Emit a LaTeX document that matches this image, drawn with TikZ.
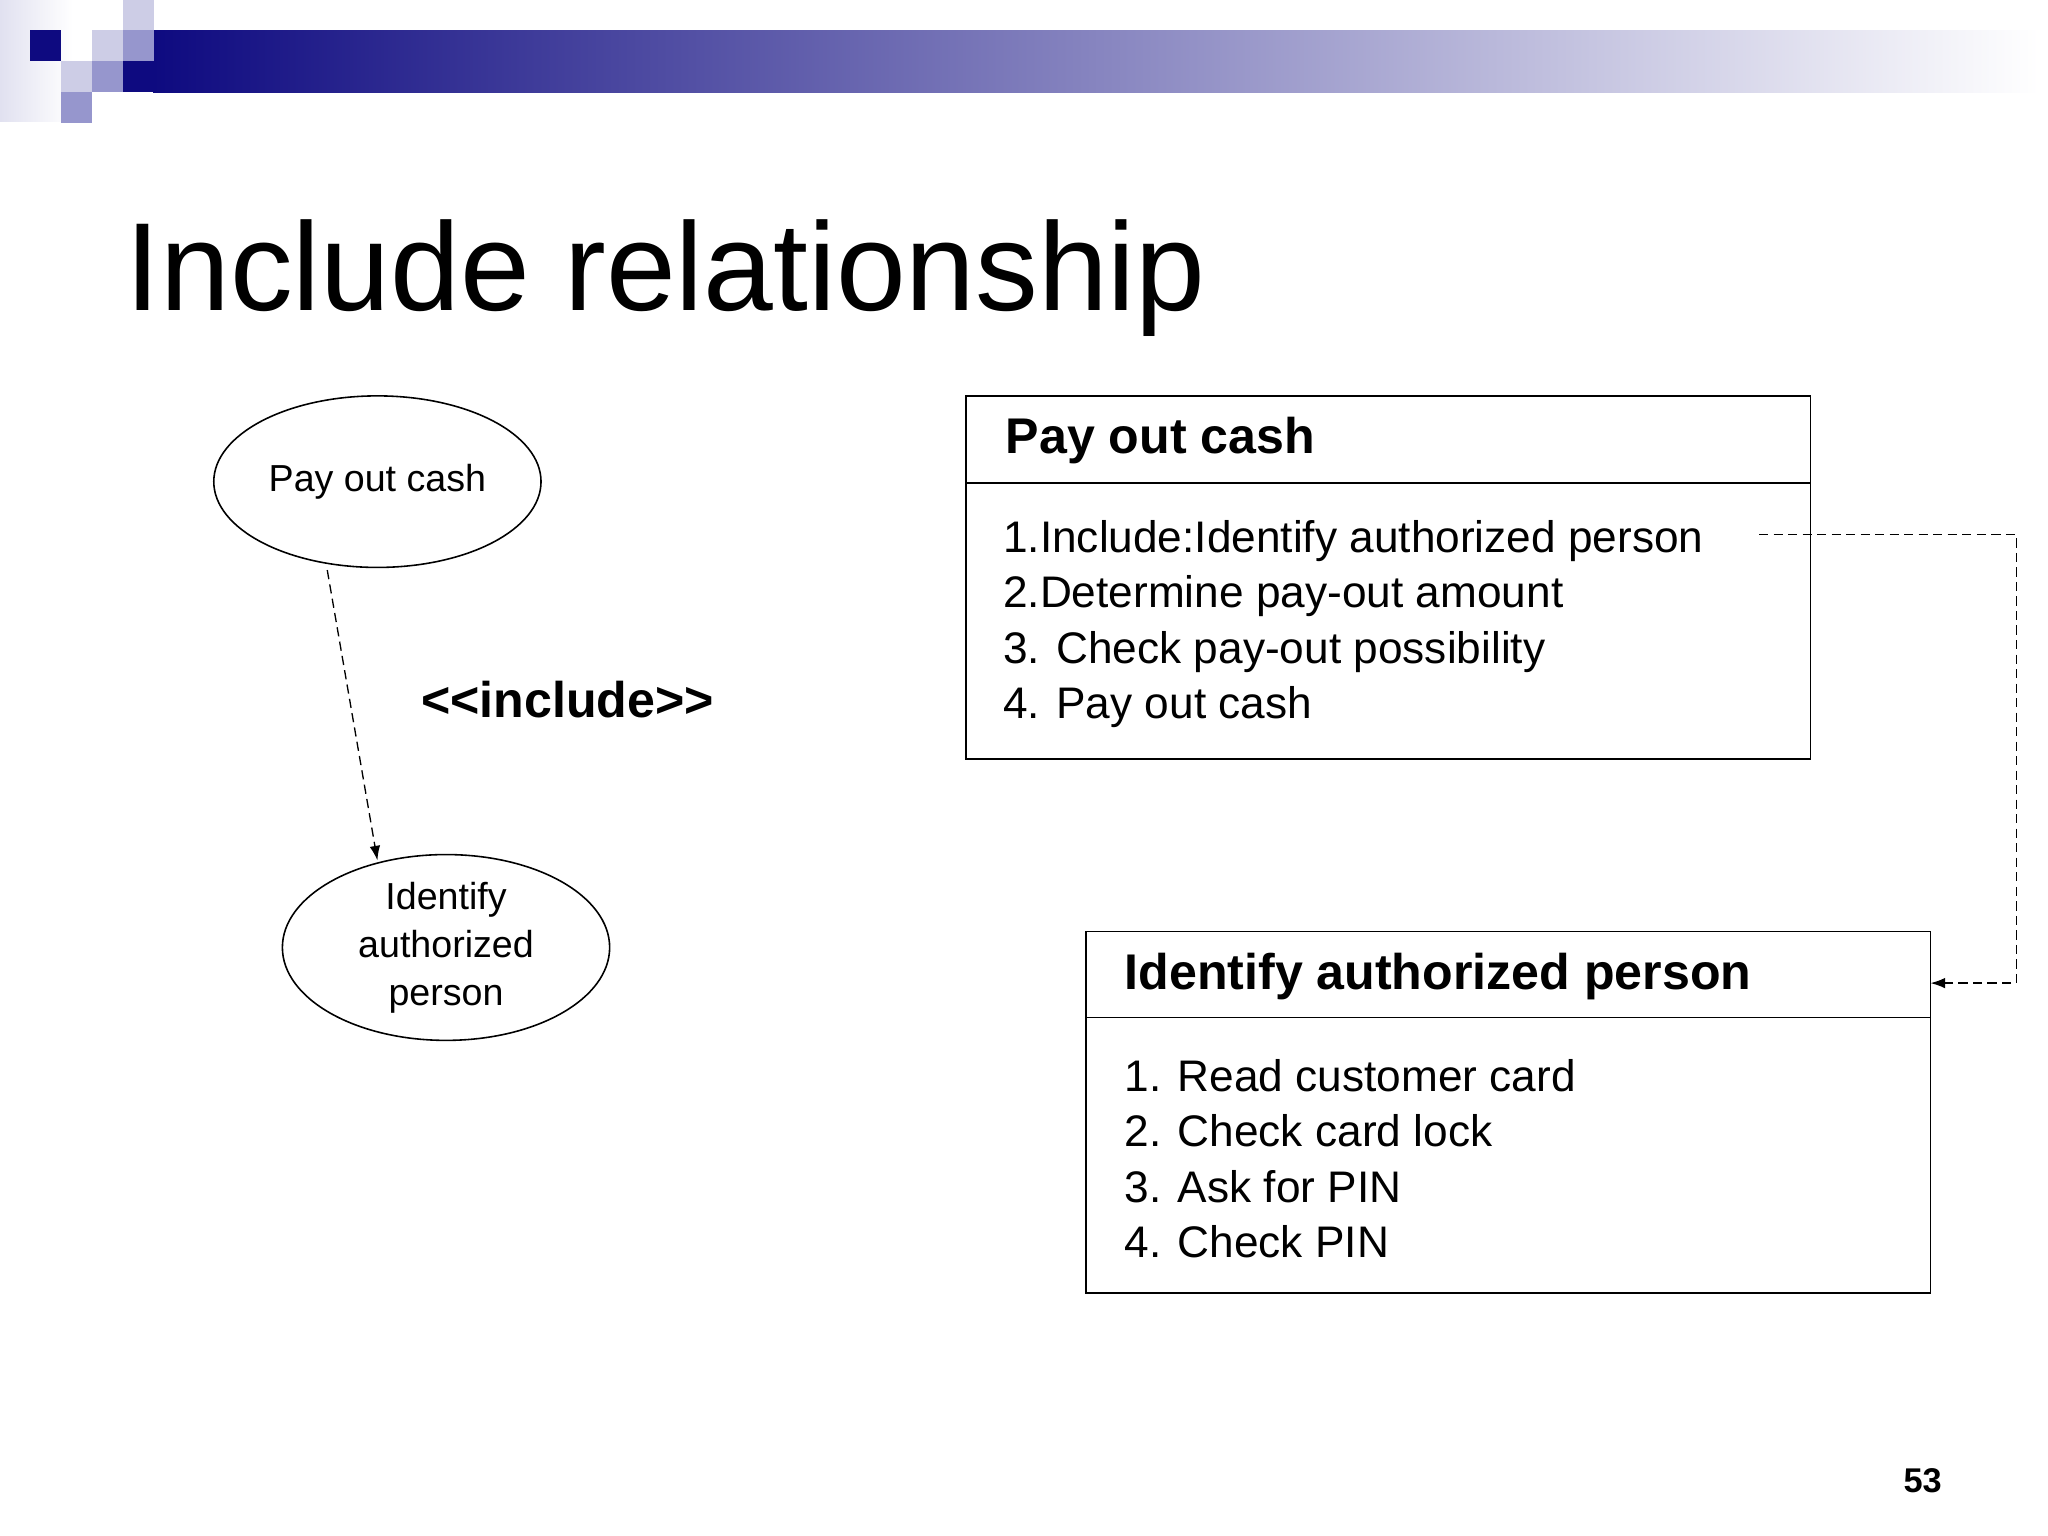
\documentclass[tikz,border=0pt]{standalone}
\usepackage{fontspec}
\setmainfont{Liberation Sans}
\usetikzlibrary{arrows.meta,shapes.geometric}
\begin{document}
\begin{tikzpicture}[x=1pt,y=-1pt,
  uc/.style={draw,ellipse,line width=1.2pt,minimum width=248pt,minimum height=130pt,align=center,font=\fontsize{28.5}{36.5}\selectfont,inner sep=0},
  box/.style={draw,line width=1.2pt},
  dsh/.style={line width=1pt,dash pattern=on 7pt off 4pt},
  itm/.style={anchor=west,font=\fontsize{33.5}{40}\selectfont,inner sep=0},
  ttl/.style={anchor=west,font=\bfseries\fontsize{38}{44}\selectfont,inner sep=0}]
\useasboundingbox (0,0) rectangle (1552,1164);
\fill[white] (0,0) rectangle (1552,1164);
\definecolor{navy}{RGB}{14,10,128}
\definecolor{lav}{RGB}{205,205,230}
\definecolor{med}{RGB}{150,150,205}
\shade[left color=lav!60,right color=white] (0,0) rectangle (55,92);
\shade[left color=navy,right color=white] (116,23) rectangle (1545,70);
\fill[navy] (93,46) rectangle (117,70);
\fill[navy] (22.7,22.7) rectangle (46.2,46.2);
\fill[lav] (46.2,46.2) rectangle (69.7,69.7);
\fill[med] (46.2,69.7) rectangle (69.7,93.2);
\fill[lav] (69.7,23) rectangle (93.2,46.2);
\fill[med] (69.7,46.2) rectangle (93.2,69.7);
\fill[lav] (93.2,0) rectangle (116.7,23);
\fill[med] (93.2,23) rectangle (116.7,46.2);
\node[anchor=base west,inner sep=0,font=\fontsize{95}{110}\selectfont] (title) at (95,235) {Include relationship};
\node[uc] (e1) at (286,365) {Pay out cash};
\node[uc] (e2) at (338,718) {Identify\\authorized\\person};
\coordinate (p1) at (248,432);
\coordinate (p2) at (286,652);
\draw[dsh,-{Latex[length=11pt,width=8pt]}] (p1) -- (p2);
\node[font=\bfseries\fontsize{38}{40}\selectfont] (inc) at (430,530) {<{}<include>{}>};
\draw[box] (732,300) rectangle (1372,575);
\draw[box] (732,366) -- (1372,366);
\node[ttl] (t1) at (762,334) {Pay out cash};
\node[itm] (a1) at (760,410) {1.Include:Identify authorized person};
\node[itm] (a2) at (760,452) {2.Determine pay-out amount};
\node[itm] (a3) at (760,494) {3. Check pay-out possibility};
\node[itm] (a4) at (760,536) {4. Pay out cash};
\draw[box] (823,706) rectangle (1463,980);
\draw[box] (823,771) -- (1463,771);
\node[ttl] (t2) at (852,740) {Identify authorized person};
\node[itm] (b1) at (852,815) {1. Read customer card};
\node[itm] (b2) at (852,857) {2. Check card lock};
\node[itm] (b3) at (852,899) {3. Ask for PIN};
\node[itm] (b4) at (852,941) {4. Check PIN};
\coordinate (s) at (1333,405);
\coordinate (d) at (1463,745);
\draw[dsh,-{Latex[length=11pt,width=8pt]}] (s) -- (1528,405) -- (1528,745) -- (d);
\node[font=\bfseries\fontsize{26}{30}\selectfont] (pg) at (1457,1122) {53};
\end{tikzpicture}
\end{document}
